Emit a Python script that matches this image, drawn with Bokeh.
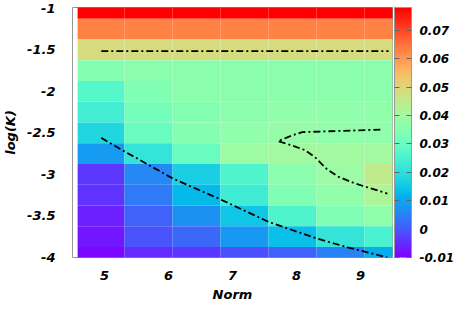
import math
from bokeh.plotting import figure
from bokeh.models import (ColumnDataSource, LinearColorMapper, ColorBar, FixedTicker,
                          CustomJSTickFormatter, Range1d)
from bokeh.embed import file_html
from bokeh.resources import INLINE

# ---- data ----
norm_edges = [4.58, 5.31, 6.06, 6.81, 7.56, 8.31, 9.06, 9.81]
logk_centers = [-1.0, -1.25, -1.5, -1.75, -2.0, -2.25, -2.5, -2.75, -3.0, -3.25, -3.5, -3.75, -4.0]
z_rows = [
    [0.078, 0.078, 0.078, 0.078, 0.078, 0.078, 0.078],
    [0.063, 0.063, 0.063, 0.063, 0.063, 0.063, 0.063],
    [0.049, 0.049, 0.049, 0.049, 0.049, 0.049, 0.049],
    [0.035, 0.036, 0.036, 0.036, 0.036, 0.036, 0.036],
    [0.027, 0.034, 0.036, 0.036, 0.036, 0.036, 0.036],
    [0.0235, 0.032, 0.035, 0.036, 0.037, 0.037, 0.037],
    [0.018, 0.030, 0.035, 0.037, 0.038, 0.037, 0.037],
    [0.0085, 0.021, 0.030, 0.039, 0.040, 0.040, 0.040],
    [-0.0035, 0.006, 0.0165, 0.026, 0.036, 0.039, 0.045],
    [-0.0045, 0.004, 0.013, 0.023, 0.034, 0.037, 0.042],
    [-0.0065, 0.001, 0.007, 0.015, 0.026, 0.034, 0.037],
    [-0.0075, -0.0005, 0.002, 0.008, 0.014, 0.021, 0.025],
    [-0.009, -0.005, -0.004, -0.001, 0.001, 0.005, 0.011],
]
row_height = 0.25

c1_x = [4.95, 9.44]
c1_y = [-1.515, -1.515]
c2_x = [4.95, 5.33, 6.07, 6.81, 7.56, 8.31, 8.81, 9.42]
c2_y = [-2.56, -2.73, -3.05, -3.30, -3.57, -3.77, -3.88, -4.0]
c3_x = [9.31, 8.92, 8.51, 8.09, 7.93, 7.71, 7.93, 8.14, 8.30, 8.48, 8.66, 8.92, 9.42]
c3_y = [-2.46, -2.47, -2.48, -2.49, -2.53, -2.60, -2.65, -2.71, -2.80, -2.94, -3.03, -3.11, -3.23]

x_ticks = [5, 6, 7, 8, 9]
y_ticks = [-4, -3.5, -3, -2.5, -2, -1.5, -1]
cb_ticks = [-0.01, 0, 0.01, 0.02, 0.03, 0.04, 0.05, 0.06, 0.07]
z_low, z_high = -0.01, 0.078

# rainbow palette (gnuplot 33,13,10 style)
def rainbow(t):
    r = min(1.0, abs(2 * t - 0.5))
    g = math.sin(math.pi * t)
    b = math.cos(math.pi * t / 2)
    return "#%02x%02x%02x" % (int(round(r * 255)), int(round(max(0, g) * 255)), int(round(max(0, b) * 255)))

palette = [rainbow(i / 255) for i in range(256)]
mapper = LinearColorMapper(palette=palette, low=z_low, high=z_high)

left, right, bottom, top, val = [], [], [], [], []
for yc, row in zip(logk_centers, z_rows):
    for j, v in enumerate(row):
        left.append(norm_edges[j])
        right.append(norm_edges[j + 1])
        bottom.append(yc - row_height / 2)
        top.append(yc + row_height / 2)
        val.append(v)
src = ColumnDataSource(dict(left=left, right=right, bottom=bottom, top=top, z=val))

FONT = "DejaVu Sans"
FRAME_H = 250

p = figure(width=449, height=294, output_backend="svg", toolbar_location=None,
           x_range=Range1d(4.5, 9.5), y_range=Range1d(-4.0, -0.99),
           min_border_left=59, min_border_top=7, min_border_bottom=37, min_border_right=0)
p.frame_width = 320
p.frame_height = FRAME_H
p.grid.visible = False
p.outline_line_color = "#999999"
p.outline_line_width = 1
p.background_fill_color = "white"

p.quad(left="left", right="right", bottom="bottom", top="top", source=src,
       fill_color={"field": "z", "transform": mapper}, line_color=None)

dash = "7 3 2 3"
for xs, ys in ((c1_x, c1_y), (c2_x, c2_y), (c3_x, c3_y)):
    p.line(xs, ys, line_color="black", line_width=1.8, line_dash=dash)

for ax in (p.xaxis, p.yaxis):
    ax.axis_line_color = None
    ax.major_tick_line_color = None
    ax.minor_tick_line_color = None
    ax.major_label_text_font = FONT
    ax.major_label_text_font_style = "bold italic"
    ax.major_label_text_font_size = "13px"
    ax.major_label_text_color = "black"
    ax.axis_label_text_font = FONT
    ax.axis_label_text_font_style = "bold italic"
    ax.axis_label_text_font_size = "13px"
    ax.axis_label_text_color = "black"

p.xaxis.ticker = FixedTicker(ticks=x_ticks)
p.yaxis.ticker = FixedTicker(ticks=y_ticks)
p.xaxis.formatter = CustomJSTickFormatter(code="return String(tick)")
p.yaxis.formatter = CustomJSTickFormatter(code="return String(tick)")
p.xaxis.axis_label = "Norm"
p.yaxis.axis_label = "log(K)"
p.xaxis.major_label_standoff = 7
p.yaxis.major_label_standoff = 11
p.xaxis.axis_label_standoff = 4
p.yaxis.axis_label_standoff = 6

cb = ColorBar(color_mapper=mapper, width=17, height=FRAME_H, padding=2, location="center",
              ticker=FixedTicker(ticks=cb_ticks),
              formatter=CustomJSTickFormatter(code="var s = tick.toFixed(2); s = s.replace(/0+$/, '').replace(/\\.$/, ''); return s;"),
              bar_line_color="#999999", border_line_color=None, background_fill_color=None,
              major_tick_line_color="#666666", major_tick_in=17, major_tick_out=0,
              major_tick_line_dash="5 7", minor_tick_line_color=None,
              label_standoff=8,
              major_label_text_font=FONT, major_label_text_font_style="bold italic",
              major_label_text_font_size="12px", major_label_text_color="black")
p.add_layout(cb, "right")

open("out.html", "w").write(file_html(p, INLINE))
